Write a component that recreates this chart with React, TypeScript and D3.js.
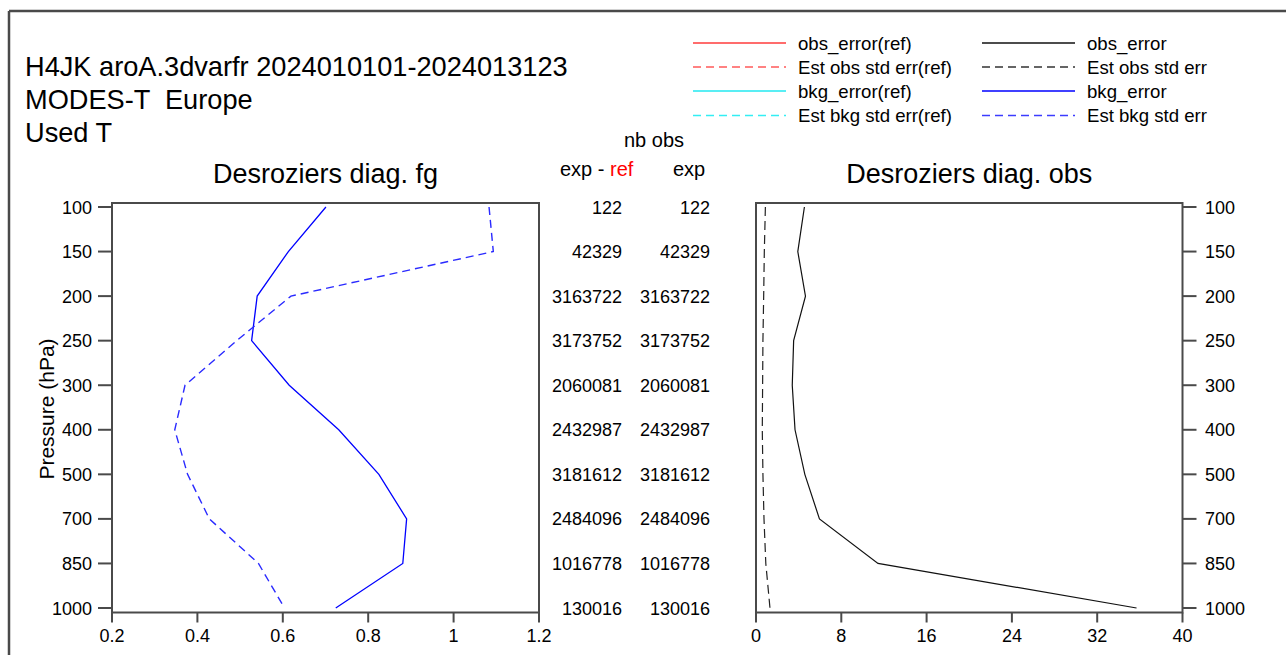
import React from "react";
import * as d3 from "d3";

// Pressure levels (hPa), top to bottom
const levels = ["100", "150", "200", "250", "300", "400", "500", "700", "850", "1000"];

// Observation counts per level
const nbObsDiff = [122, 42329, 3163722, 3173752, 2060081, 2432987, 3181612, 2484096, 1016778, 130016];
const nbObsExp = [122, 42329, 3163722, 3173752, 2060081, 2432987, 3181612, 2484096, 1016778, 130016];

// Desroziers diag. fg (background)
const bkgError = [0.701, 0.613, 0.54, 0.527, 0.615, 0.731, 0.825, 0.89, 0.881, 0.724];
const estBkgStdErr = [1.083, 1.093, 0.619, 0.492, 0.371, 0.347, 0.377, 0.428, 0.543, 0.604];

// Desroziers diag. obs
const obsError = [4.54, 3.92, 4.64, 3.53, 3.4, 3.66, 4.58, 5.95, 11.44, 35.69];
const estObsStdErr = [0.88, 0.78, 0.72, 0.65, 0.62, 0.59, 0.65, 0.75, 0.92, 1.31];

const fgTicks = [0.2, 0.4, 0.6, 0.8, 1, 1.2];
const obsTicks = [0, 8, 16, 24, 32, 40];

const headerLines = ["H4JK aroA.3dvarfr 2024010101-2024013123", "MODES-T  Europe", "Used T"];

const legendItems = [
  { label: "obs_error(ref)", color: "#ff3b3b", dash: null, col: 0 },
  { label: "Est obs std err(ref)", color: "#ff5a5a", dash: "8,5", col: 0 },
  { label: "bkg_error(ref)", color: "#22e8f0", dash: null, col: 0 },
  { label: "Est bkg std err(ref)", color: "#33eef4", dash: "8,5", col: 0 },
  { label: "obs_error", color: "#111111", dash: null, col: 1 },
  { label: "Est obs std err", color: "#333333", dash: "8,5", col: 1 },
  { label: "bkg_error", color: "#0000ff", dash: null, col: 1 },
  { label: "Est bkg std err", color: "#3c3cff", dash: "8,5", col: 1 },
];

const FONT = "'Liberation Sans', Arial, Helvetica, sans-serif";
const FRAME = "#4a4a4a";

export default function App() {
  const W = 1286;
  const H = 655;
  const top = 203;
  const bottom = 612.5;

  const y = d3.scalePoint<string>().domain(levels).range([207, 608]);
  const xFg = d3.scaleLinear().domain([0.2, 1.2]).range([112, 539]);
  const xObs = d3.scaleLinear().domain([0, 40]).range([756, 1182.5]);

  const lineFg = d3
    .line<number>()
    .x((d) => xFg(d))
    .y((_, i) => y(levels[i]) as number);
  const lineObs = d3
    .line<number>()
    .x((d) => xObs(d))
    .y((_, i) => y(levels[i]) as number);

  const legendCols = [
    { x1: 693, x2: 786, tx: 798 },
    { x1: 982, x2: 1075, tx: 1087 },
  ];
  const legendRowY = [43, 67, 91, 115.5];

  return (
    <svg
      width={W}
      height={H}
      style={{ position: "absolute", left: 0, top: 0, display: "block", background: "#fff" }}
      fontFamily={FONT}
    >
      {/* page frame */}
      <line x1={9} y1={11} x2={W} y2={11} stroke={FRAME} strokeWidth={2.5} />
      <line x1={9} y1={11} x2={9} y2={H} stroke={FRAME} strokeWidth={2.5} />

      {/* header */}
      {headerLines.map((t, i) => (
        <text key={t} x={25} y={76 + i * 33} fontSize={27.2} fill="#000" style={{ whiteSpace: "pre" }}>
          {t}
        </text>
      ))}

      {/* legend */}
      {legendItems.map((it, k) => {
        const c = legendCols[it.col];
        const ry = legendRowY[k % 4];
        return (
          <g key={it.label}>
            <line
              x1={c.x1}
              x2={c.x2}
              y1={ry}
              y2={ry}
              stroke={it.color}
              strokeWidth={1.3}
              strokeDasharray={it.dash ?? undefined}
            />
            <text x={c.tx} y={ry + 6.5} fontSize={18.6} fill="#000">
              {it.label}
            </text>
          </g>
        );
      })}

      {/* titles */}
      <text x={(112 + 539) / 2} y={183} fontSize={27} textAnchor="middle">
        Desroziers diag. fg
      </text>
      <text x={(756 + 1182.5) / 2} y={183} fontSize={27} textAnchor="middle">
        Desroziers diag. obs
      </text>

      {/* nb obs table */}
      <text x={654} y={147} fontSize={20} textAnchor="middle">
        nb obs
      </text>
      <text x={560} y={176} fontSize={20}>
        exp - <tspan fill="#ff0000">ref</tspan>
      </text>
      <text x={673} y={176} fontSize={20}>
        exp
      </text>
      {levels.map((lv, i) => (
        <g key={"nb" + lv}>
          <text x={622} y={(y(lv) as number) + 6.5} fontSize={18} textAnchor="end">
            {nbObsDiff[i]}
          </text>
          <text x={710} y={(y(lv) as number) + 6.5} fontSize={18} textAnchor="end">
            {nbObsExp[i]}
          </text>
        </g>
      ))}

      {/* left panel */}
      <g>
        <rect x={112} y={top} width={539 - 112} height={bottom - top} fill="none" stroke={FRAME} strokeWidth={2} />
        {levels.map((lv) => (
          <g key={"ly" + lv}>
            <line x1={98} x2={112} y1={y(lv)} y2={y(lv)} stroke={FRAME} strokeWidth={2} />
            <text x={92} y={(y(lv) as number) + 6.5} fontSize={18} textAnchor="end">
              {lv}
            </text>
          </g>
        ))}
        {fgTicks.map((t) => (
          <g key={"lx" + t}>
            <line x1={xFg(t)} x2={xFg(t)} y1={bottom} y2={bottom + 10} stroke={FRAME} strokeWidth={2} />
            <text x={xFg(t)} y={641.5} fontSize={18} textAnchor="middle">
              {String(t)}
            </text>
          </g>
        ))}
        <text transform={`translate(54,${409}) rotate(-90)`} fontSize={21} textAnchor="middle">
          Pressure (hPa)
        </text>
        <path d={lineFg(bkgError) ?? ""} fill="none" stroke="#0000ff" strokeWidth={1.3} />
        <path
          d={lineFg(estBkgStdErr) ?? ""}
          fill="none"
          stroke="#2a2aff"
          strokeWidth={1.4}
          strokeDasharray="8,5"
        />
      </g>

      {/* right panel */}
      <g>
        <rect x={756} y={top} width={1182.5 - 756} height={bottom - top} fill="none" stroke={FRAME} strokeWidth={2} />
        {levels.map((lv) => (
          <g key={"ry" + lv}>
            <line x1={1182.5} x2={1196.5} y1={y(lv)} y2={y(lv)} stroke={FRAME} strokeWidth={2} />
            <text x={1205} y={(y(lv) as number) + 6.5} fontSize={18}>
              {lv}
            </text>
          </g>
        ))}
        {obsTicks.map((t) => (
          <g key={"rx" + t}>
            <line x1={xObs(t)} x2={xObs(t)} y1={bottom} y2={bottom + 10} stroke={FRAME} strokeWidth={2} />
            <text x={xObs(t)} y={641.5} fontSize={18} textAnchor="middle">
              {String(t)}
            </text>
          </g>
        ))}
        <path d={lineObs(obsError) ?? ""} fill="none" stroke="#111" strokeWidth={1.2} />
        <path
          d={lineObs(estObsStdErr) ?? ""}
          fill="none"
          stroke="#222"
          strokeWidth={1.2}
          strokeDasharray="9,5"
        />
      </g>
    </svg>
  );
}
